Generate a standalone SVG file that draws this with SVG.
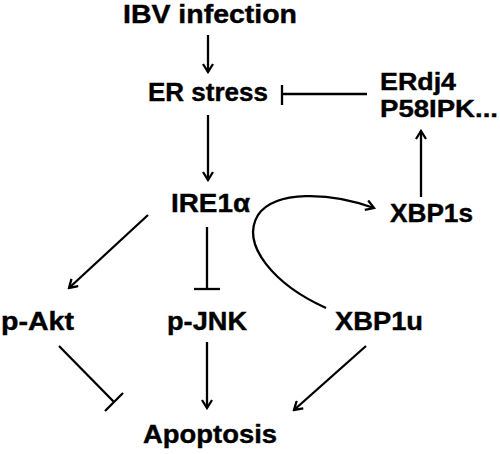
<svg xmlns="http://www.w3.org/2000/svg" width="500" height="454" viewBox="0 0 500 454">
<style>
text{font-family:"Liberation Sans",Arial,sans-serif;font-weight:bold;font-size:25px;fill:#000;stroke:#000;stroke-width:0.4}
.s{font-size:24px}
.c{fill:none;stroke:#000;stroke-width:2.3}
</style>
<defs>
<marker id="ah" viewBox="-10 -6 12 12" refX="0" refY="0" markerWidth="12" markerHeight="12" markerUnits="userSpaceOnUse" orient="auto">
<path d="M-8,-5 L0,0 L-8,5" fill="none" stroke="#000" stroke-width="2.3"/>
</marker>
</defs>
<rect width="500" height="454" fill="#fff"/>
<g id="connectors">
<line class="c" x1="208" y1="35" x2="208" y2="72" marker-end="url(#ah)"/>
<line class="c" x1="208" y1="115" x2="208" y2="180" marker-end="url(#ah)"/>
<line class="c" x1="367" y1="94" x2="282" y2="94"/>
<line class="c" x1="282" y1="85" x2="282" y2="105"/>
<line class="c" x1="421" y1="197" x2="421" y2="131" marker-end="url(#ah)"/>
<path class="c" d="M326,308 C275,285 240,245 258,215 C275,190 330,192 374,208" marker-end="url(#ah)"/>
<line class="c" x1="148" y1="215" x2="69" y2="288" marker-end="url(#ah)"/>
<line class="c" x1="207" y1="227" x2="207" y2="289"/>
<line class="c" x1="194" y1="289" x2="220" y2="289"/>
<line class="c" x1="59" y1="346" x2="114" y2="402"/>
<line class="c" x1="105" y1="411" x2="123" y2="393"/>
<line class="c" x1="207" y1="342" x2="207" y2="408" marker-end="url(#ah)"/>
<line class="c" x1="366" y1="346" x2="294" y2="410" marker-end="url(#ah)"/>
</g>
<g id="ibv"><text x="123" y="23" textLength="174" lengthAdjust="spacingAndGlyphs">IBV infection</text></g>
<g id="erstress"><text x="148" y="101" textLength="120" lengthAdjust="spacingAndGlyphs">ER stress</text></g>
<g id="erdj4"><text class="s" x="380" y="90" textLength="76" lengthAdjust="spacingAndGlyphs">ERdj4</text><text class="s" x="380" y="117" textLength="118" lengthAdjust="spacingAndGlyphs">P58IPK...</text></g>
<g id="ire1a"><text x="171" y="212" textLength="79" lengthAdjust="spacingAndGlyphs">IRE1α</text></g>
<g id="xbp1s"><text x="390" y="222" textLength="83" lengthAdjust="spacingAndGlyphs">XBP1s</text></g>
<g id="pakt"><text x="1" y="330" textLength="73" lengthAdjust="spacingAndGlyphs">p-Akt</text></g>
<g id="pjnk"><text x="167" y="330" textLength="80" lengthAdjust="spacingAndGlyphs">p-JNK</text></g>
<g id="xbp1u"><text x="335" y="330" textLength="88" lengthAdjust="spacingAndGlyphs">XBP1u</text></g>
<g id="apoptosis"><text x="143" y="443" textLength="134" lengthAdjust="spacingAndGlyphs">Apoptosis</text></g>
</svg>
